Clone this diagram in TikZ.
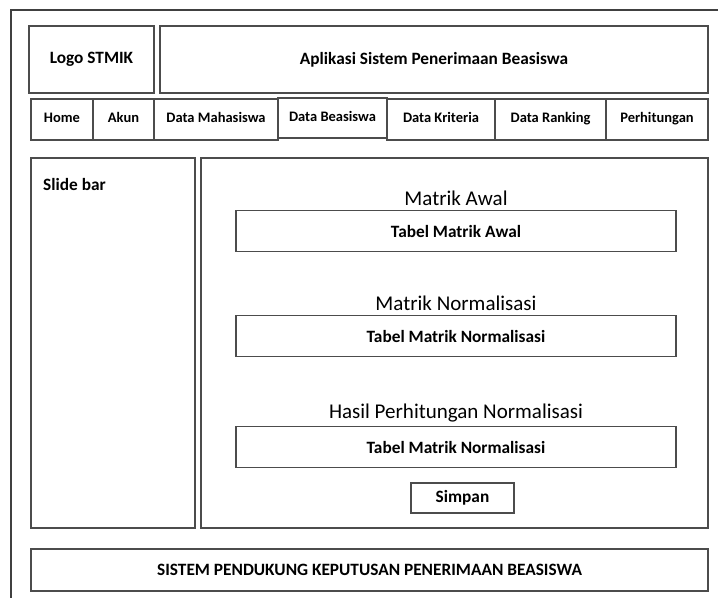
\documentclass[tikz,border=0pt]{standalone}
\usepackage{fontspec}
\setmainfont{Carlito}
\usepackage{xcolor}
\usepackage{tikz}

\tikzset{
    box/.style={draw=black!70, line width=1.2pt, inner sep=0pt, font=\bfseries\fontsize{17.3}{19}\selectfont},
    navbox/.style={box, minimum height=41, text height=0.86em, text depth=0.22em, font=\bfseries\fontsize{14.5}{16}\selectfont},
    tablebox/.style={box, minimum width=440, minimum height=41},
    heading/.style={inner sep=0pt, font=\fontsize{21}{23}\selectfont}
}

\begin{document}
\begin{tikzpicture}[x=1pt, y=-1pt]
    \useasboundingbox (0,0) rectangle (718,598);

    % outer frame, cut off at right and bottom
    \coordinate (frameTR) at (718,10);
    \coordinate (frameTL) at (11,10);
    \coordinate (frameBL) at (11,598);
    \draw[draw=black!75, line width=1.2pt] (frameTR) -- (frameTL) -- (frameBL);

    % header
    \node[box, minimum width=125, minimum height=67] (logo) at (91.5,59.5) {Logo STMIK};
    \node[box, minimum width=548, minimum height=67] (title) at (434,59.5) {Aplikasi Sistem Penerimaan Beasiswa};

    % menu bar
    \node[navbox, minimum width=62]  (home)      at (62,119.5)   {Home};
    \node[navbox, minimum width=61]  (akun)      at (123.5,119.5) {Akun};
    \node[navbox, minimum width=124] (mahasiswa) at (216,119.5)  {Data Mahasiswa};
    \node[navbox, minimum width=109, minimum height=40] (beasiswa) at (332.5,118) {Data Beasiswa};
    \node[navbox, minimum width=108] (kriteria)  at (441,119.5)  {Data Kriteria};
    \node[navbox, minimum width=111] (ranking)   at (550.5,119.5) {Data Ranking};
    \node[navbox, minimum width=102] (hitung)    at (657,119.5)  {Perhitungan};

    % side bar and content panel
    \node[box, minimum width=164, minimum height=370] (sidebar) at (113,343) {};
    \node[inner sep=0pt, anchor=west, font=\bfseries\fontsize{17.3}{19}\selectfont] (sidelabel) at (43,184) {Slide bar};
    \node[box, minimum width=507, minimum height=370] (content) at (454.5,343) {};

    % tables
    \node[heading] (awalhead) at (456,198) {Matrik Awal};
    \node[tablebox] (awal) at (456,231) {Tabel Matrik Awal};

    \node[heading] (normhead) at (456,303) {Matrik Normalisasi};
    \node[tablebox] (norm) at (456,336) {Tabel Matrik Normalisasi};

    \node[heading] (hasilhead) at (456,413) {Hasil Perhitungan Normalisasi};
    \node[tablebox] (hasil) at (456,447) {Tabel Matrik Normalisasi};

    \node[box, minimum width=103, minimum height=30] (simpan) at (462.5,498) {Simpan};

    % footer
    \node[box, minimum width=677, minimum height=42] (footer) at (369.5,570) {SISTEM PENDUKUNG KEPUTUSAN PENERIMAAN BEASISWA};
\end{tikzpicture}
\end{document}
